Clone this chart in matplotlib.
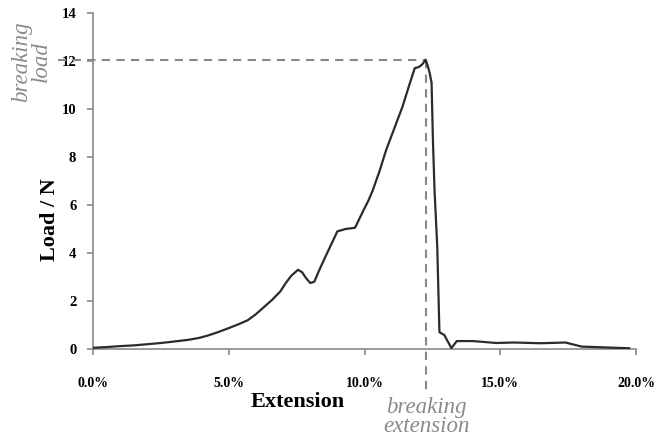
import matplotlib.pyplot as plt
from matplotlib.ticker import FuncFormatter

# extension (%) and load (N)
extension = [0.0, 0.5, 1.0, 1.5, 2.0, 2.5, 2.9, 3.5, 3.9, 4.2, 4.6, 5.0, 5.4,
             5.7, 6.0, 6.3, 6.6, 6.9, 7.1, 7.3, 7.55, 7.7, 7.85, 8.0, 8.15,
             8.3, 8.5, 8.75, 9.0, 9.3, 9.65, 9.8, 9.95, 10.15, 10.3, 10.55,
             10.8, 11.1, 11.4, 11.65, 11.85, 12.0, 12.12, 12.25, 12.33, 12.4,
             12.47, 12.52, 12.58, 12.68, 12.76, 12.94, 13.2, 13.4, 14.0, 14.85,
             15.5, 16.5, 17.4, 18.0, 19.0, 19.75]
load = [0.05, 0.08, 0.12, 0.15, 0.2, 0.25, 0.3, 0.38, 0.46, 0.55, 0.7, 0.87,
        1.05, 1.2, 1.45, 1.75, 2.05, 2.4, 2.75, 3.05, 3.3, 3.2, 2.95, 2.75,
        2.8, 3.2, 3.7, 4.3, 4.9, 5.0, 5.05, 5.4, 5.75, 6.2, 6.6, 7.4,
        8.3, 9.2, 10.1, 11.0, 11.7, 11.75, 11.85, 12.05, 11.8, 11.5,
        11.1, 8.7, 6.6, 4.25, 0.7, 0.58, 0.04, 0.33, 0.33, 0.25,
        0.27, 0.24, 0.27, 0.1, 0.06, 0.03]

breaking_load = 12.05
breaking_ext = 12.28

plt.rcParams['font.family'] = ['Liberation Serif', 'DejaVu Serif']

fig = plt.figure(figsize=(6.56, 4.43), dpi=100)
ax = fig.add_axes([0.1418, 0.2122, 0.8277, 0.7585])

ax.plot(extension, load, color='#2b2b2b', lw=1.6, zorder=3)

# breaking point guides
ax.plot([-1.3, breaking_ext], [breaking_load, breaking_load], ls=(0, (4, 3)),
        color='#888888', lw=1.5, clip_on=False)
ax.plot([breaking_ext, breaking_ext], [breaking_load, -1.7], ls=(0, (4, 3)),
        color='#888888', lw=1.5, clip_on=False)

ax.set_xlim(0, 20)
ax.set_ylim(0, 14)
ax.set_xticks([0, 5, 10, 15, 20])
ax.set_yticks(range(0, 15, 2))
ax.xaxis.set_major_formatter(FuncFormatter(lambda v, p: f'{v:.1f}%'))

for s in ['top', 'right']:
    ax.spines[s].set_visible(False)
for s in ['left', 'bottom']:
    ax.spines[s].set_color('#8a8a8a')
    ax.spines[s].set_linewidth(1.2)

ax.tick_params(axis='both', colors='#8a8a8a', length=4, width=1.2,
               labelcolor='black')
ax.tick_params(axis='x', pad=16, labelsize=10)
ax.tick_params(axis='y', pad=8, labelsize=10.5)
for lbl in ax.get_xticklabels() + ax.get_yticklabels():
    lbl.set_fontweight('bold')

ax.set_ylabel('Load / N', fontsize=16, fontweight='bold')
ax.yaxis.set_label_coords(-0.079, 0.384)
ax.set_xlabel('Extension', fontsize=16, fontweight='bold')
ax.xaxis.set_label_coords(0.376, -0.158)
ax.xaxis.label.set_va('center')
ax.yaxis.label.set_va('center')

ax.text(-2.28, 11.96, 'breaking\nload', rotation=90, style='italic',
        color='#8a8a8a', fontsize=16.5, ha='center', va='center',
        linespacing=0.9)
ax.text(breaking_ext, -2.83, 'breaking\nextension', style='italic',
        color='#8a8a8a', fontsize=16.5, ha='center', va='center',
        linespacing=0.9)

fig.savefig('out.png', dpi=100)
